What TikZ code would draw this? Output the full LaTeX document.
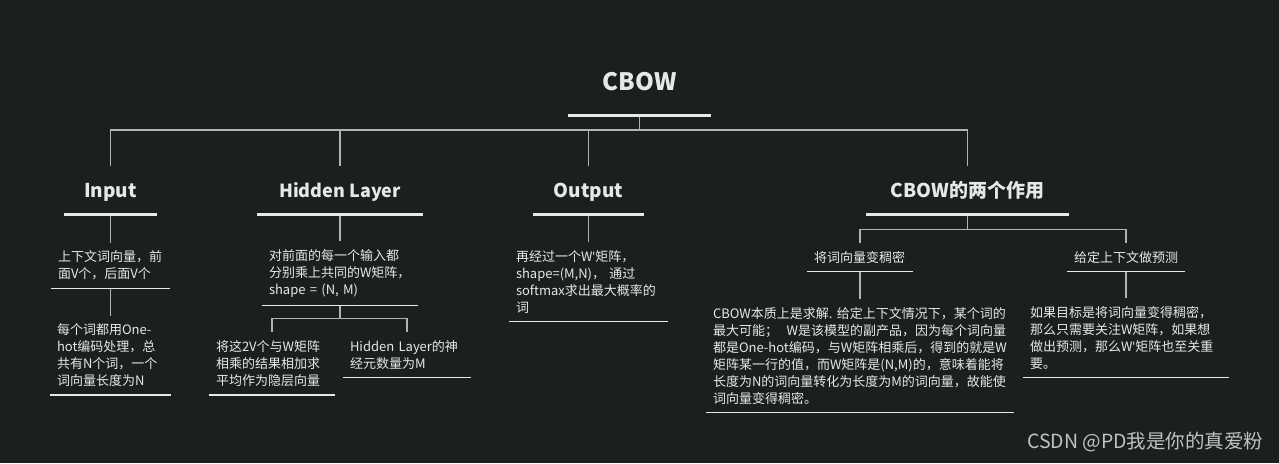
\documentclass[tikz,border=0pt]{standalone}
\usepackage{fontspec}
\setmainfont{Noto Sans CJK SC}
\newfontfamily\latinfont{Noto Sans}
\definecolor{bg}{HTML}{1B201E}
\definecolor{ink}{HTML}{E6E9E6}
\definecolor{wire}{HTML}{B0B5B1}
\definecolor{wmark}{HTML}{C0C4C1}
\newcommand{\apos}{{\latinfont\char39}}
\tikzset{
  bigtitle/.style={text=ink, font=\fontsize{24pt}{28pt}\selectfont\bfseries,
    minimum height=66pt, text height=17pt, text depth=0pt, inner sep=0pt},
  head/.style={text=ink, font=\fontsize{19pt}{23pt}\selectfont\bfseries,
    minimum height=47.5pt, text height=13.5pt, text depth=0pt, inner sep=0pt},
  leaf/.style={text=ink, font=\fontsize{13pt}{17pt}\selectfont, align=left,
    inner xsep=7pt, inner ysep=8pt},
  conn/.style={draw=wire, line width=1.4pt},
  thickline/.style={draw=ink, line width=3pt},
  thinline/.style={draw=ink, line width=1.2pt},
  wm/.style={text=wmark, font=\fontsize{19.5pt}{22pt}\selectfont, inner sep=0pt}
}
\begin{document}
\begin{tikzpicture}[x=1pt, y=-1pt]
  \useasboundingbox (0,0) rectangle (1279,463);
  \fill[bg] (0,0) rectangle (1279,463);
  % titel en koppen
  \node[bigtitle, minimum width=143pt, anchor=south] (cbow) at (639.5,115) {CBOW};
  \node[head, minimum width=92pt, anchor=south] (input) at (110.5,214.3) {Input};
  \node[head, minimum width=166pt, anchor=south, font=\fontsize{18pt}{22pt}\selectfont\bfseries] (hidden) at (340,214.3) {Hidden Layer};
  \node[head, minimum width=111pt, anchor=south] (output) at (588.5,214.3) {Output};
  \node[head, minimum width=203pt, anchor=south] (roles) at (967.5,214.3) {CBOW的两个作用};
  % input
  \node[leaf, text width=105pt, anchor=south] (in1) at (110.5,288.3)
    {上下文词向量，前\\面V个，后面V个};
  \node[leaf, text width=107pt, anchor=south] (in2) at (110.5,395)
    {每个词都用One-\\hot编码处理，总\\共有N个词，一个\\词向量长度为N};
  % hidden layer
  \node[leaf, text width=142pt, anchor=south] (hid1) at (340,305.3)
    {对前面的每一个输入都\\分别乘上共同的W矩阵，\\shape~=~(N,~M)};
  \node[leaf, text width=112pt, anchor=south] (hid2) at (272,395)
    {将这2V个与W矩阵\\相乘的结果相加求\\平均作为隐层向量};
  \node[leaf, text width=114pt, anchor=south] (hid3) at (407,377.7)
    {Hidden~Layer的神\\经元数量为M};
  % output
  \node[leaf, text width=145pt, anchor=south] (out1) at (588.5,321.7)
    {再经过一个W\apos 矩阵，\\shape=(M,N)，~通过\\softmax求出最大概率的\\词};
  % twee rollen
  \node[leaf, text width=92pt, anchor=south] (dense) at (860,271.7) {将词向量变稠密};
  \node[leaf, text width=104pt, anchor=south] (predict) at (1126,271.7) {给定上下文做预测};
  \node[leaf, text width=294pt, anchor=south] (denseT) at (860,412.3)
    {CBOW本质上是求解.~给定上下文情况下，某个词的\\最大可能；~~W是该模型的副产品，因为每个词向量\\都是One-hot编码，与W矩阵相乘后，得到的就是W\\矩阵某一行的值，而W矩阵是(N,M)的，意味着能将\\长度为N的词向量转化为长度为M的词向量，故能使\\词向量变得稠密。};
  \node[leaf, text width=192pt, anchor=south] (predT) at (1126,377.7)
    {如果目标是将词向量变得稠密，\\那么只需要关注W矩阵，如果想\\做出预测，那么W\apos 矩阵也至关重\\要。};
  \node[wm, anchor=west] (csdn) at (1027,441.7) {CSDN @PD我是你的真爱粉};
  % verbindingen
  \draw[conn] (cbow.south) -- ++(0,15) -| (input.north);
  \draw[conn] (cbow.south) -- ++(0,15) -| (hidden.north);
  \draw[conn] (cbow.south) -- ++(0,15) -| (output.north);
  \draw[conn] (cbow.south) -- ++(0,15) -| (roles.north);
  \draw[conn] (input.south) -- (in1.north);
  \draw[conn] (in1.south) -- (in2.north);
  \draw[conn] (hidden.south) -- (hid1.north);
  \draw[conn] (hid1.south) -- ++(0,13) -| (hid2.north);
  \draw[conn] (hid1.south) -- ++(0,13) -| (hid3.north);
  \draw[conn] (output.south) -- (out1.north);
  \draw[conn] (roles.south) -- ++(0,15) -| (dense.north);
  \draw[conn] (roles.south) -- ++(0,15) -| (predict.north);
  \draw[conn] (dense.south) -- (denseT.north);
  \draw[conn] (predict.south) -- (predT.north);
  % onderstrepingen
  \draw[thickline] (cbow.south west) -- (cbow.south east);
  \draw[thickline] (input.south west) -- (input.south east);
  \draw[thickline] (hidden.south west) -- (hidden.south east);
  \draw[thickline] (output.south west) -- (output.south east);
  \draw[thickline] (roles.south west) -- (roles.south east);
  \draw[thinline] (in1.south west) -- (in1.south east);
  \draw[thinline] (in2.south west) -- (in2.south east);
  \draw[thinline] (hid1.south west) -- (hid1.south east);
  \draw[thinline] (hid2.south west) -- (hid2.south east);
  \draw[thinline] (hid3.south west) -- (hid3.south east);
  \draw[thinline] (out1.south west) -- (out1.south east);
  \draw[thinline] (dense.south west) -- (dense.south east);
  \draw[thinline] (predict.south west) -- (predict.south east);
  \draw[thinline] (denseT.south west) -- (denseT.south east);
  \draw[thinline] (predT.south west) -- (predT.south east);
\end{tikzpicture}
\end{document}
